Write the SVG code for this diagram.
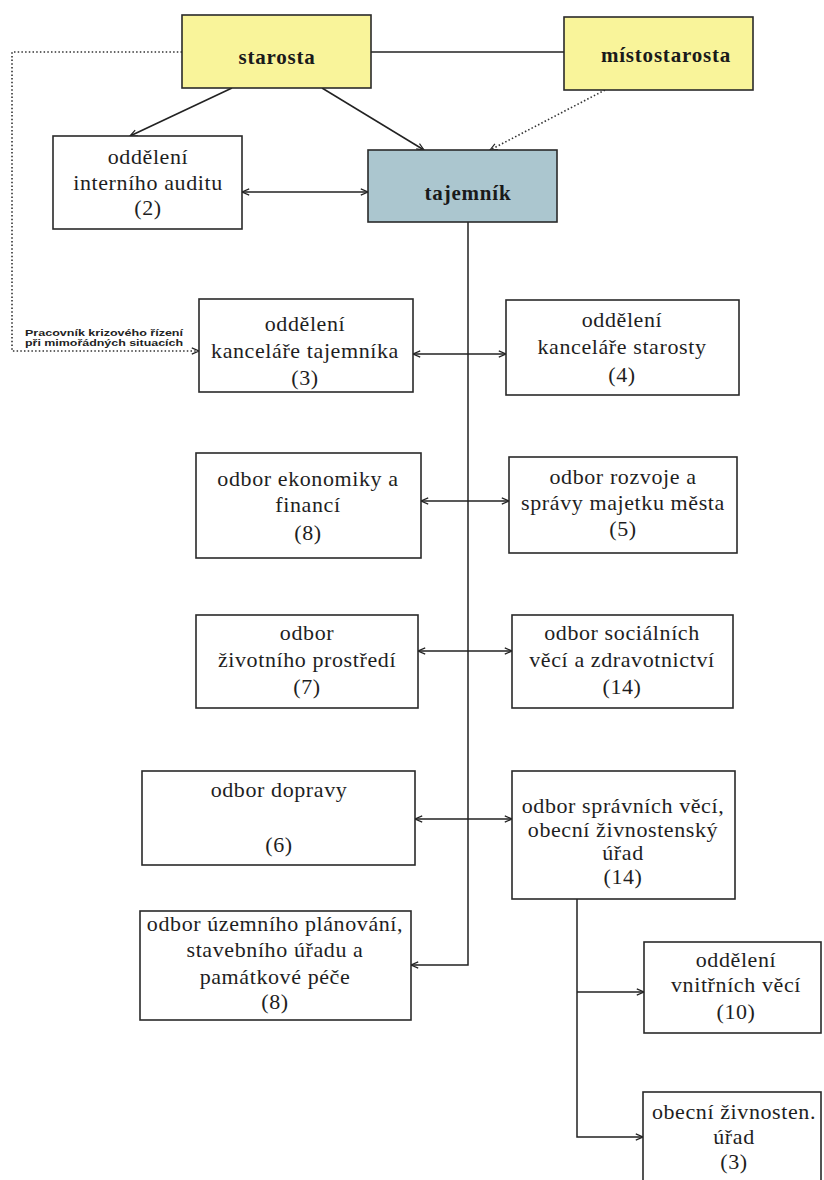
<svg xmlns="http://www.w3.org/2000/svg" width="824" height="1180" viewBox="0 0 824 1180">
  <defs>
    <marker id="arr" viewBox="0 0 10 10" refX="9" refY="5" markerWidth="9" markerHeight="9" markerUnits="userSpaceOnUse" orient="auto-start-reverse">
      <path d="M1,1.5 L9,5 L1,8.5" fill="none" stroke="#222" stroke-width="1.3"/>
    </marker>
    <style>
      .box { fill: #ffffff; stroke: #2a2a2a; stroke-width: 1.6; }
      .yel { fill: #f9f49a; stroke: #2a2a2a; stroke-width: 1.6; }
      .blu { fill: #abc6cf; stroke: #2a2a2a; stroke-width: 1.6; }
      .t { font-family: "Liberation Serif", "Times New Roman", serif; font-size: 22px; fill: #1e1e1e; text-anchor: middle; letter-spacing: 0.6px; }
      .b { font-family: "Liberation Serif", "Times New Roman", serif; font-size: 21px; font-weight: bold; fill: #1a1a1a; text-anchor: middle; letter-spacing: 0.8px; }
      .s { font-family: "Liberation Sans", Arial, sans-serif; font-size: 8.5px; font-weight: bold; fill: #222; }
      .ln { fill: none; stroke: #222; stroke-width: 1.5; }
      .dot { fill: none; stroke: #333; stroke-width: 1.6; stroke-dasharray: 1.5 2.2; }
    </style>
  </defs>
  <rect width="824" height="1180" fill="#ffffff"/>

  <g id="connectors">
    <line class="ln" x1="371" y1="52" x2="564" y2="52"/>
    <line class="ln" x1="232" y1="88" x2="130" y2="136" marker-end="url(#arr)"/>
    <line class="ln" x1="322" y1="88" x2="424" y2="150" marker-end="url(#arr)"/>
    <line class="dot" x1="605" y1="90" x2="490" y2="150" marker-end="url(#arr)"/>
    <line class="ln" x1="242" y1="192" x2="368" y2="192" marker-start="url(#arr)" marker-end="url(#arr)"/>
    <path class="dot" d="M182,52 H12 V351 H199" marker-end="url(#arr)"/>
    <path class="ln" d="M468,222 V965 H411" marker-end="url(#arr)"/>
    <line class="ln" x1="413" y1="354" x2="506" y2="354" marker-start="url(#arr)" marker-end="url(#arr)"/>
    <line class="ln" x1="421" y1="501" x2="509" y2="501" marker-start="url(#arr)" marker-end="url(#arr)"/>
    <line class="ln" x1="418" y1="651" x2="512" y2="651" marker-start="url(#arr)" marker-end="url(#arr)"/>
    <line class="ln" x1="415" y1="819" x2="512" y2="819" marker-start="url(#arr)" marker-end="url(#arr)"/>
    <path class="ln" d="M577,899 V1137 H643" marker-end="url(#arr)"/>
    <line class="ln" x1="577" y1="992" x2="644" y2="992" marker-end="url(#arr)"/>
    <text class="s" x="25" y="336" textLength="158" lengthAdjust="spacingAndGlyphs">Pracovník krizového řízení</text>
    <text class="s" x="25" y="346" textLength="158" lengthAdjust="spacingAndGlyphs">při mimořádných situacích</text>
  </g>

  <g id="starosta">
    <rect class="yel" x="182" y="15" width="189" height="73"/>
    <text class="b" x="277" y="64">starosta</text>
  </g>
  <g id="mistostarosta">
    <rect class="yel" x="564" y="17" width="189" height="73"/>
    <text class="b" x="666" y="62">místostarosta</text>
  </g>
  <g id="audit">
    <rect class="box" x="53" y="136" width="189" height="93"/>
    <text class="t" x="148" y="164">oddělení</text>
    <text class="t" x="148" y="190">interního auditu</text>
    <text class="t" x="148" y="215">(2)</text>
  </g>
  <g id="tajemnik">
    <rect class="blu" x="368" y="150" width="189" height="72"/>
    <text class="b" x="468" y="200">tajemník</text>
  </g>
  <g id="kancelar-tajemnika">
    <rect class="box" x="199" y="299" width="214" height="93"/>
    <text class="t" x="305" y="331">oddělení</text>
    <text class="t" x="305" y="358">kanceláře tajemníka</text>
    <text class="t" x="305" y="385">(3)</text>
  </g>
  <g id="kancelar-starosty">
    <rect class="box" x="506" y="300" width="233" height="95"/>
    <text class="t" x="622" y="327">oddělení</text>
    <text class="t" x="622" y="354">kanceláře starosty</text>
    <text class="t" x="622" y="382">(4)</text>
  </g>
  <g id="ekonomika">
    <rect class="box" x="196" y="453" width="225" height="105"/>
    <text class="t" x="308" y="486">odbor ekonomiky a</text>
    <text class="t" x="308" y="512">financí</text>
    <text class="t" x="308" y="540">(8)</text>
  </g>
  <g id="rozvoj">
    <rect class="box" x="509" y="457" width="228" height="96"/>
    <text class="t" x="623" y="484">odbor rozvoje a</text>
    <text class="t" x="623" y="510">správy majetku města</text>
    <text class="t" x="623" y="536">(5)</text>
  </g>
  <g id="zivotni-prostredi">
    <rect class="box" x="196" y="615" width="222" height="93"/>
    <text class="t" x="307" y="640">odbor</text>
    <text class="t" x="307" y="667">životního prostředí</text>
    <text class="t" x="307" y="694">(7)</text>
  </g>
  <g id="socialni">
    <rect class="box" x="512" y="615" width="221" height="93"/>
    <text class="t" x="622" y="640">odbor sociálních</text>
    <text class="t" x="622" y="667">věcí a zdravotnictví</text>
    <text class="t" x="622" y="694">(14)</text>
  </g>
  <g id="doprava">
    <rect class="box" x="142" y="771" width="273" height="94"/>
    <text class="t" x="279" y="797">odbor dopravy</text>
    <text class="t" x="279" y="852">(6)</text>
  </g>
  <g id="spravni">
    <rect class="box" x="512" y="771" width="223" height="128"/>
    <text class="t" x="623" y="813">odbor správních věcí,</text>
    <text class="t" x="623" y="837">obecní živnostenský</text>
    <text class="t" x="623" y="860">úřad</text>
    <text class="t" x="623" y="884">(14)</text>
  </g>
  <g id="uzemni-planovani">
    <rect class="box" x="140" y="911" width="271" height="109"/>
    <text class="t" x="275" y="931">odbor územního plánování,</text>
    <text class="t" x="275" y="957">stavebního úřadu a</text>
    <text class="t" x="275" y="984">památkové péče</text>
    <text class="t" x="275" y="1009">(8)</text>
  </g>
  <g id="vnitrni-veci">
    <rect class="box" x="644" y="942" width="177" height="91"/>
    <text class="t" x="736" y="967">oddělení</text>
    <text class="t" x="736" y="992">vnitřních věcí</text>
    <text class="t" x="736" y="1019">(10)</text>
  </g>
  <g id="zivnostensky-urad">
    <rect class="box" x="643" y="1092" width="178" height="100"/>
    <text class="t" x="734" y="1119">obecní živnosten.</text>
    <text class="t" x="734" y="1144">úřad</text>
    <text class="t" x="734" y="1169">(3)</text>
  </g>
</svg>
